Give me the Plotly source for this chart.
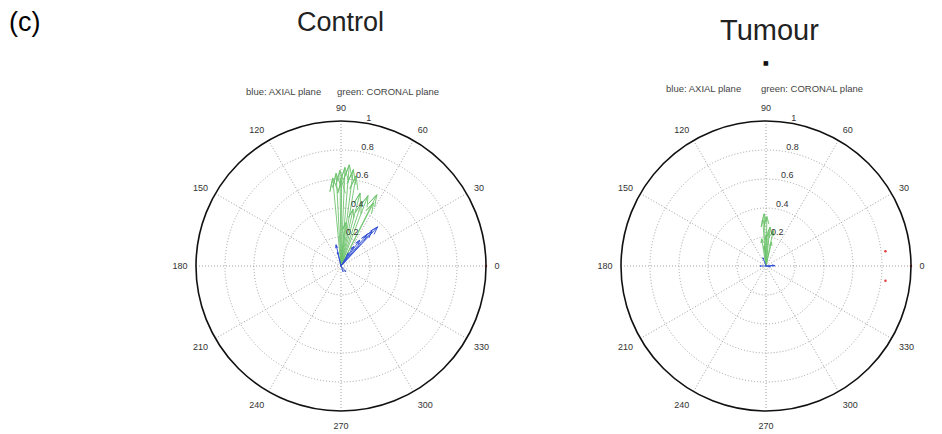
import math
import plotly.graph_objects as go

# Compass data: magnitude and direction (degrees) of each vector
control_coronal_mag = [0.70, 0.68, 0.66, 0.64, 0.61, 0.67, 0.63, 0.59, 0.52, 0.52, 0.55, 0.49, 0.45, 0.40, 0.30]
control_coronal_deg = [85.3, 87.7, 90.6, 93.0, 95.4, 82.7, 80.5, 89.6, 75.3, 69.0, 63.3, 62.7, 72.0, 78.0, 84.0]
control_axial_mag = [0.37, 0.32, 0.28, 0.22, 0.16, 0.15, 0.10, 0.10, 0.05, 0.04]
control_axial_deg = [46.8, 48.2, 50.4, 54.0, 57.0, 103.0, 104.0, 60.0, 310.0, 290.0]

tumour_coronal_mag = [0.36, 0.34, 0.32, 0.27, 0.25, 0.23, 0.19, 0.17, 0.21, 0.14]
tumour_coronal_deg = [92.0, 89.0, 94.0, 84.0, 78.5, 86.0, 99.0, 77.0, 90.0, 95.0]
tumour_axial_mag = [0.06, 0.05, 0.04, 0.06, 0.03]
tumour_axial_deg = [2.0, 5.0, 180.0, 110.0, 350.0]

# stray red points near the rim
control_red_mag = [1.0]
control_red_deg = [0.0]
tumour_red_mag = [0.83, 0.83, 1.0]
tumour_red_deg = [7.0, -7.0, 0.0]

angle_ticks = list(range(0, 360, 30))
radial_ticks = [0.2, 0.4, 0.6, 0.8, 1.0]
radial_labels = ["0.2", "0.4", "0.6", "0.8", "1"]

GREEN = "rgb(110,195,110)"
BLUE = "rgb(50,80,210)"
W, H = 942, 434


def arrow_path(mags, degs, head_len=0.15, head_half=0.045):
    """Shaft plus two barbs per vector, compass style (head scales with length)."""
    head_r = math.hypot(1 - head_len, head_half)
    head_a = math.degrees(math.atan2(head_half, 1 - head_len))
    r, t = [], []
    for m, d in zip(mags, degs):
        r += [0, m, head_r * m, m, head_r * m, None]
        t += [d, d, d + head_a, d, d - head_a, None]
    return r, t


def domain(cx, cy, rad):
    return dict(x=[(cx - rad) / W, (cx + rad) / W],
                y=[(H - cy - rad) / H, (H - cy + rad) / H])


fig = go.Figure()

panels = [
    ("polar", control_axial_mag, control_axial_deg, control_coronal_mag, control_coronal_deg,
     control_red_mag, control_red_deg),
    ("polar2", tumour_axial_mag, tumour_axial_deg, tumour_coronal_mag, tumour_coronal_deg,
     tumour_red_mag, tumour_red_deg),
]
for sub, amag, adeg, cmag, cdeg, rmag, rdeg in panels:
    r, t = arrow_path(cmag, cdeg)
    fig.add_trace(go.Scatterpolar(r=r, theta=t, mode="lines", subplot=sub,
                                  line=dict(color=GREEN, width=0.9), showlegend=False,
                                  connectgaps=False, hoverinfo="skip"))
    r, t = arrow_path(amag, adeg)
    fig.add_trace(go.Scatterpolar(r=r, theta=t, mode="lines", subplot=sub,
                                  line=dict(color=BLUE, width=0.9), showlegend=False,
                                  connectgaps=False, hoverinfo="skip"))
    fig.add_trace(go.Scatterpolar(r=rmag, theta=rdeg, mode="markers", subplot=sub,
                                  marker=dict(color="rgb(225,60,60)", size=2.5),
                                  showlegend=False, cliponaxis=False, hoverinfo="skip"))
    # radial scale labels sit just outside each ring along the 80 degree spoke
    fig.add_trace(go.Scatterpolar(r=radial_ticks, theta=[80] * len(radial_ticks),
                                  mode="text", text=radial_labels, textposition="top right",
                                  textfont=dict(size=9, color="#333", family="Liberation Sans"),
                                  subplot=sub, showlegend=False, cliponaxis=False,
                                  hoverinfo="skip"))

polar_style = dict(
    bgcolor="white",
    radialaxis=dict(range=[0, 1], tickvals=radial_ticks[:-1], showticklabels=False,
                    ticks="", showline=False, gridcolor="#a0a0a0", griddash="1px,2px",
                    gridwidth=1),
    angularaxis=dict(rotation=0, direction="counterclockwise", tickmode="array",
                     tickvals=angle_ticks, ticktext=[str(a) for a in angle_ticks],
                     showline=True, linecolor="#111", linewidth=1.6,
                     gridcolor="#a0a0a0", griddash="1px,2px", gridwidth=1,
                     ticks="outside", ticklen=6, tickcolor="rgba(0,0,0,0)",
                     tickfont=dict(size=9, color="#333", family="Liberation Sans")),
)

fig.update_layout(
    width=W, height=H,
    margin=dict(l=0, r=0, t=0, b=0),
    paper_bgcolor="white",
    polar=dict(domain=domain(341, 266, 145), **polar_style),
    polar2=dict(domain=domain(766, 266, 145), **polar_style),
    font=dict(family="Liberation Sans", color="#222"),
)


def px_text(x, y, text, size, **kw):
    fig.add_annotation(x=x / W, y=1 - y / H, xref="paper", yref="paper", text=text,
                       showarrow=False, font=dict(size=size, color=kw.pop("color", "#222"),
                                                  family=kw.pop("family", "Liberation Sans")),
                       xanchor="center", yanchor="middle", **kw)


px_text(24, 22, "(c)", 27, color="#000")
px_text(340, 22, "Control", 27)
px_text(769, 30, "Tumour", 29)
px_text(766, 63, "■", 6, color="#111", family="DejaVu Sans")
px_text(283, 92, "blue: AXIAL plane", 9.5, color="#444")
px_text(388, 92, "green: CORONAL plane", 9.5, color="#444")
px_text(703, 88, "blue: AXIAL plane", 9.5, color="#444")
px_text(812, 88, "green: CORONAL plane", 9.5, color="#444")

fig.write_html("out.html")
